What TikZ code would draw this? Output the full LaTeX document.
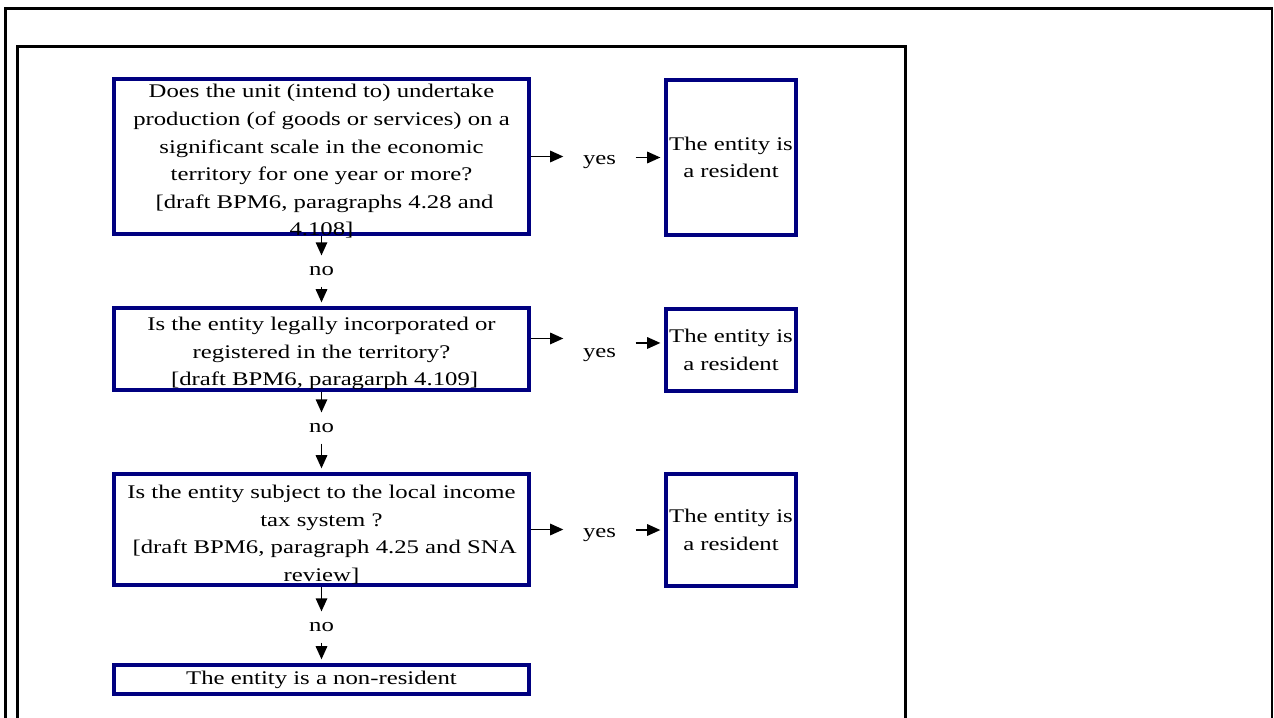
\documentclass[tikz,border=0pt]{standalone}
\usepackage{fontspec}
\setmainfont{Liberation Serif}[FakeStretch=1.28]
\usepackage{xcolor}
\usetikzlibrary{arrows.meta}
\definecolor{boxnavy}{RGB}{0,0,128}

\begin{document}
\begin{tikzpicture}[x=0.02cm, y=-0.02cm,
    font=\fontsize{11}{15.7}\selectfont,
    >={Triangle[length=7.5pt,width=6.5pt]},
    frame/.style={draw=black, line width=1.5pt},
    question/.style={draw=boxnavy, line width=2.4pt, align=center,
        minimum width=8.3cm, inner sep=0pt},
    qtext/.style={align=center, inner sep=0pt},
    answer/.style={draw=boxnavy, line width=2.4pt, align=center,
        minimum width=2.6cm, inner sep=0pt},
    yeslabel/.style={inner xsep=11pt, inner ysep=1pt},
    nolabel/.style={inner xsep=1pt, inner ysep=6pt},
    flow/.style={->, line width=1pt},
    into/.style={flow, shorten >=2pt}]
    \useasboundingbox (0, 0) rectangle (1274, 717);
    \clip (0, 0) rectangle (1274, 717);
    % page frames
    \draw [frame] (5.3, 8.7) rectangle (1272, 740);
    \draw [frame] (17.3, 46.3) rectangle (905.3, 740);
    % first test
    \path (321.5, 156.5) node [question, minimum height=3.1cm] (q1) {};
    \path (321.5, 161.5) node [qtext] (q1t)
        {Does the unit (intend to) undertake\\
         production (of goods or services) on a\\
         significant scale in the economic\\
         territory for one year or more?\\{}
         [draft BPM6, paragraphs 4.28 and\\
         4.108]};
    \path (599.5, 162) node [yeslabel] (y1) {yes};
    \path (731, 157.5) node [answer, minimum height=3.1cm] (r1) {The entity is\\ a resident};
    \draw [flow] (q1.east) -- (q1.east -| y1.west);
    \draw [into] (y1.east |- r1.west) -- (r1.west);
    \path (321.5, 271) node [nolabel] (n1) {no};
    \draw [flow] (q1) -- (n1);
    % second test
    \path (321.5, 349) node [question, minimum height=1.64cm] (q2) {};
    \path (321.5, 353.5) node [qtext] (q2t)
        {Is the entity legally incorporated or\\
         registered in the territory?\\{}
         [draft BPM6, paragarph 4.109]};
    \draw [into] (n1) -- (q2);
    \path (599.5, 355) node [yeslabel] (y2) {yes};
    \path (731, 350) node [answer, minimum height=1.64cm] (r2) {The entity is\\ a resident};
    \draw [flow] ([yshift=6pt]q2.east) -- ([yshift=6pt]q2.east -| y2.west);
    \draw [into] ([yshift=4pt]r2.west -| y2.east) -- ([yshift=4pt]r2.west);
    \path (321.5, 428) node [nolabel] (n2) {no};
    \draw [flow] (q2) -- (n2);
    % third test
    \path (321.5, 529.5) node [question, minimum height=2.22cm] (q3) {};
    \path (321.5, 534.5) node [qtext] (q3t)
        {Is the entity subject to the local income\\
         tax system ?\\{}
         [draft BPM6, paragraph 4.25 and SNA\\
         review]};
    \draw [into] (n2) -- (q3);
    \path (599.5, 535.5) node [yeslabel] (y3) {yes};
    \path (731, 530) node [answer, minimum height=2.24cm] (r3) {The entity is\\ a resident};
    \draw [flow] (q3.east) -- (q3.east -| y3.west);
    \draw [into] (y3.east |- r3.west) -- (r3.west);
    \path (321.5, 627) node [nolabel] (n3) {no};
    \draw [flow] (q3) -- (n3);
    % outcome
    \path (321.5, 679.5) node [question, minimum height=0.58cm] (q4) {\raisebox{-1pt}{The entity is a non-resident}};
    \draw [into] (n3) -- (q4);
\end{tikzpicture}
\end{document}
